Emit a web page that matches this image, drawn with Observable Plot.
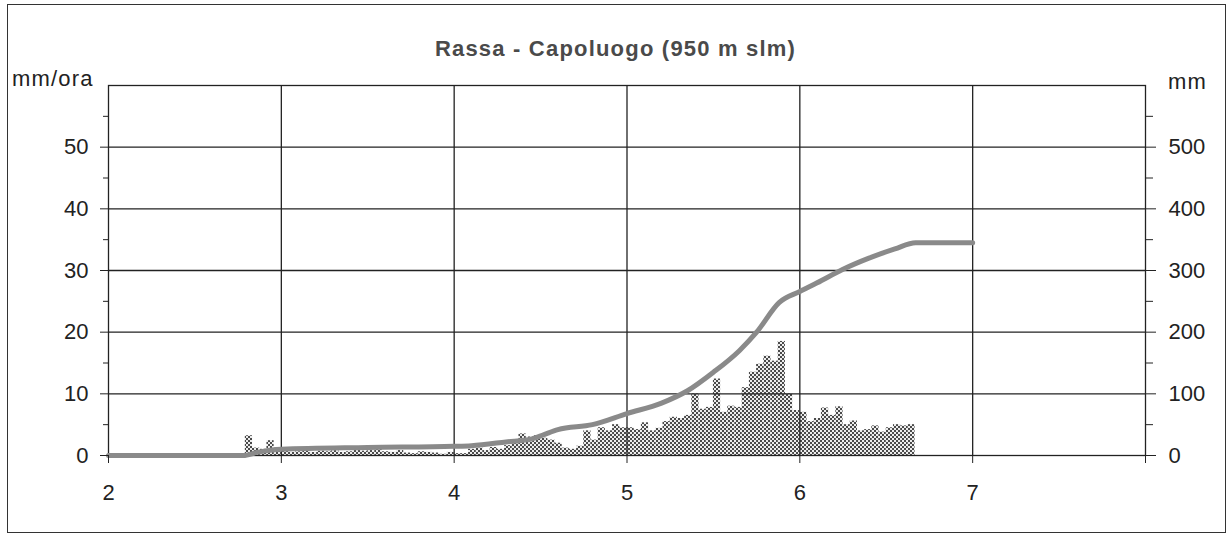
<!DOCTYPE html>
<html>
<head>
<meta charset="utf-8">
<script src="https://cdn.jsdelivr.net/npm/d3@7"></script>
<script src="https://cdn.jsdelivr.net/npm/@observablehq/plot@0.6"></script>
<style>
  html, body { margin: 0; padding: 0; background: #fff; }
  #wrap { position: relative; width: 1231px; height: 537px; font-family: "Liberation Sans", Arial, sans-serif; color: #222; }
  #border { position: absolute; left: 7px; top: 4px; width: 1219px; height: 529px; border: 1.5px solid #333; box-sizing: border-box; }
  #title { position: absolute; left: 0; width: 1231px; top: 36px; text-align: center; font-size: 22px; font-weight: bold; letter-spacing: 1.2px; color: #4a4a4a; }
  .ylab { position: absolute; font-size: 22px; letter-spacing: 1.2px; }
  #chart { position: absolute; left: 0; top: 0; }
</style>
</head>
<body>
<div id="wrap">
  <div id="border"></div>
  <div id="title">Rassa - Capoluogo (950 m slm)</div>
  <div class="ylab" style="left:12px; top:66px;">mm/ora</div>
  <div class="ylab" style="left:1168px; top:69px;">mm</div>
  <div id="chart"></div>
</div>
<script>
// Hourly rainfall intensity (mm/ora), one value per hour of each day
const day2Rain = [0,0,0,0,0,0,0,0,0,0,0,0,0,0,0,0,0,0,0, 3.2,1.2,1.0,2.4,1.2];
const day3Rain = [0.8,0.5,0.6,0.8,0.5,0.7,0.6,0.8,0.5,0.6,0.9,0.7,0.8,1.0,0.6,0.5,0.8,0.4,0.3,0.6,0.5,0.4,0.2,0.5];
const day4Rain = [0.3,0.3,1.0,1.2,0.8,1.3,1.0,1.6,2.0,3.5,3.0,3.2,2.8,2.5,2.0,1.2,1.0,1.5,4.0,2.5,4.5,4.0,5.0,4.5];
const day5Rain = [4.5,4.2,5.3,4.0,4.4,5.5,6.2,6.0,6.5,10.0,7.5,7.8,12.4,7.0,8.0,7.8,11.0,13.5,14.8,16.1,15.3,18.5,10.0,7.3];
const day6Rain = [7.0,5.5,6.0,7.7,6.5,7.9,5.0,5.6,4.0,4.2,4.8,3.8,4.5,5.0,4.8,5.0,0,0,0,0,0,0,0,0];
const rainDays = [2, 3, 4, 5, 6];

// Cumulative rainfall (mm), right axis
const cumTime = [2.0, 2.78, 2.86, 3.0, 3.5, 4.0, 4.1, 4.3, 4.45, 4.52, 4.6, 4.8, 5.0, 5.2, 5.35, 5.5, 5.65, 5.75, 5.88, 6.0, 6.1, 6.25, 6.4, 6.55, 6.67, 7.0];
const cumMm   = [0,   0,    5,    10,  13,  15,  16,  22,  27,   34,   42,   50,  68,  85,  105,  135, 170,  200,  248,  266, 280,  302, 320,  335,  345,  345];

const leftTicks = [0, 10, 20, 30, 40, 50];
const leftMinor = [5, 15, 25, 35, 45, 55];
const xTicks = [2, 3, 4, 5, 6, 7, 8];
const xLabels = ["2", "3", "4", "5", "6", "7", ""];

const rainSeries = [day2Rain, day3Rain, day4Rain, day5Rain, day6Rain];
const rain = [];
rainSeries.forEach((arr, i) => arr.forEach((v, h) => {
  if (v > 0) rain.push({t0: rainDays[i] + h / 24, t1: rainDays[i] + (h + 1) / 24, v});
}));
const cum = cumTime.map((t, i) => ({t, mm: cumMm[i]}));

const plot = Plot.plot({
  width: 1231,
  height: 537,
  marginLeft: 108,
  marginRight: 86,
  marginTop: 85,
  marginBottom: 82,
  x: {domain: [2, 8]},
  y: {domain: [0, 60]},
  style: {background: "transparent", fontFamily: "'Liberation Sans', Arial, sans-serif", fontSize: "22px", color: "#222"},
  marks: [
    Plot.rect(rain, {x1: "t0", x2: "t1", y1: 0, y2: "v", fill: "url(#dots)"}),
    Plot.ruleY([10, 20, 30, 40, 50], {stroke: "#222", strokeWidth: 1.3}),
    Plot.ruleX([3, 4, 5, 6, 7], {stroke: "#222", strokeWidth: 1.3}),
    Plot.frame({stroke: "#222", strokeWidth: 1.3}),
    Plot.line(cum, {x: "t", y: d => d.mm / 10, stroke: "#8a8a8a", strokeWidth: 5, strokeLinejoin: "round", curve: "monotone-x"}),
    Plot.axisY(leftTicks, {anchor: "left", tickSize: 8, tickPadding: 12, label: null, stroke: "#222"}),
    Plot.axisY(leftMinor, {anchor: "left", tickSize: 5, text: null, label: null, stroke: "#222"}),
    Plot.axisY(leftTicks, {anchor: "right", tickSize: 10, tickPadding: 13, tickFormat: d => d * 10, label: null, stroke: "#222"}),
    Plot.axisY(leftMinor, {anchor: "right", tickSize: 7, text: null, label: null, stroke: "#222"}),
    Plot.axisX(xTicks, {anchor: "bottom", tickSize: 8, tickPadding: 21, tickFormat: (d, i) => xLabels[i], label: null, stroke: "#222"})
  ]
});

const ns = "http://www.w3.org/2000/svg";
const defs = document.createElementNS(ns, "defs");
defs.innerHTML = '<pattern id="dots" width="4" height="4" patternUnits="userSpaceOnUse">' +
  '<rect x="0" y="0" width="4" height="4" fill="#ededed"/>' +
  '<rect x="0" y="0" width="2" height="2" fill="#4a4a4a"/>' +
  '<rect x="2" y="2" width="2" height="2" fill="#4a4a4a"/></pattern>';
plot.insertBefore(defs, plot.firstChild);
document.getElementById("chart").appendChild(plot);
</script>
</body>
</html>
